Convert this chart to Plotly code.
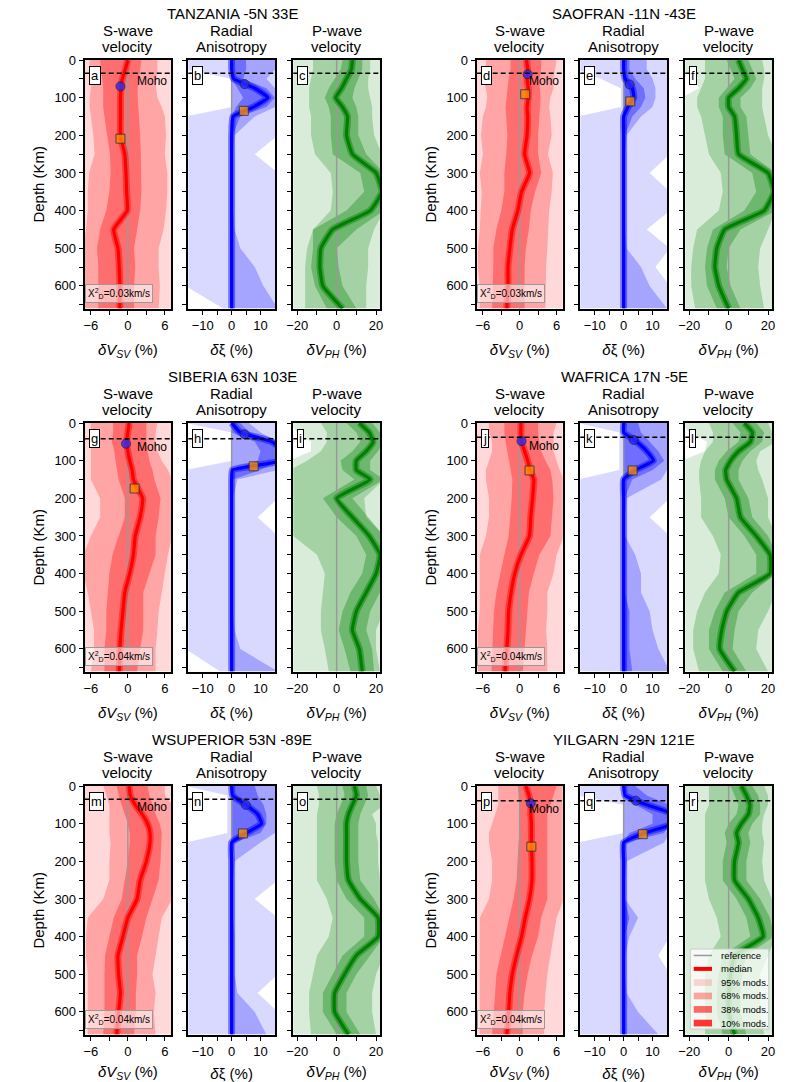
import plotly.graph_objects as go

FIG_W, FIG_H = 792, 1082

# ---------------- data ----------------
DEPTH = [0, 25, 50, 75, 100, 125, 150, 200, 250, 300, 350, 400, 450, 500, 550, 600, 660]

STATIONS = ["TANZANIA -5N 33E", "SAOFRAN -11N -43E", "SIBERIA 63N 103E",
            "WAFRICA 17N -5E", "WSUPERIOR 53N -89E", "YILGARN -29N 121E"]
CHI2 = ["0.03", "0.03", "0.04", "0.04", "0.04", "0.04"]
MOHO = [35, 35, 42, 38, 35, 39]

CIRC_VSV_DEPTH = [70, 38, 55, 48, None, 46]
CIRC_VSV_VAL = [-1.2, 1.3, -0.3, 0.3, None, 1.8]
SQ_VSV_DEPTH = [209, 91, 174, 126, None, 161]
SQ_VSV_VAL = [-1.2, 0.9, 1.1, 1.6, None, 1.9]
CIRC_XI_DEPTH = [64, 65, 30, 45, 50, 39]
CIRC_XI_VAL = [4.5, 2.1, 4.5, 3.5, 4.9, 4.2]
SQ_XI_DEPTH = [135, 110, 115, 126, 126, 128]
SQ_XI_VAL = [4.2, 2.3, 7.6, 3.1, 3.9, 6.6]

REFERENCE = 0.0

LEGEND_LABELS = ["reference", "median", "95% mods.", "68% mods.", "38% mods.", "10% mods."]

# TANZANIA
A_MED = [0.0, -0.4, -0.9, -1.1, -1.2, -1.2, -1.2, -1.2, -0.5, -0.3, -0.2, -0.1, -2.3, -1.6, -1.4, -1.3, -1.3]
A_L38 = [-4.5, -4.3, -4.2, -4.0, -4.0, -4.0, -3.8, -3.3, -2.9, -2.8, -3.0, -3.5, -4.5, -5.0, -4.8, -4.8, -4.8]
A_H38 = [2.2, 2.0, 1.8, 1.6, 1.6, 1.6, 1.8, 2.0, 2.1, 2.2, 2.2, 2.0, 1.5, 1.0, 1.2, 1.0, 1.0]
A_L68 = [-6.2, -6.2, -6.0, -6.0, -6.2, -6.2, -6.0, -5.6, -5.4, -6.3, -6.5, -6.5, -6.8, -7.2, -7.2, -7.2, -7.2]
A_H68 = [4.8, 4.8, 4.6, 4.6, 4.8, 5.5, 6.0, 6.2, 6.0, 6.4, 6.4, 6.2, 5.8, 5.0, 5.0, 5.2, 5.0]
A_L95 = [-8, -8, -8, -8, -8, -8, -8, -8, -8, -8, -8, -8, -8, -8, -8, -8, -8]
A_H95 = [8, 8, 8, 8, 8, 8, 8, 8, 8, 8, 8, 8, 8, 8, 8, 8, 8]

B_MED = [0, 0, 0.7, 8.0, 12.5, 7.5, 0.5, 0, 0, 0, 0, 0, 0, 0, 0, 0, 0]
B_L38 = [0, 0, 0, 2.0, 4.0, 1.5, 0, 0, 0, 0, 0, 0, 0, 0, 0, 0, 0]
B_H38 = [5.0, 5.0, 4.0, 12.0, 15.0, 12.0, 3.0, 0.3, 0.3, 0.3, 0.3, 0.3, 0.3, 0.3, 0.3, 0.3, 0.3]
B_L68 = [0, 0, 0, 0, 0, 0, 0, 0, 0, 0, 0, 0, 0, 0, 0, 0, 0]
B_H68 = [15.0, 15.0, 12.0, 15.0, 16.0, 15.0, 8.0, 1.0, 0.5, 0.5, 0.5, 0.5, 1.0, 3.0, 8.0, 11.0, 16.0]
B_L95 = [-16, -16, 0, 0, 0, 0, -16, -16, -16, -16, -16, -16, -16, -16, -16, -16, -3]
B_H95 = [16, 16, 16, 16, 16, 16, 16, 16, 8, 16, 16, 16, 16, 16, 16, 16, 16]

C_MED = [8, 7.5, 5, 2.5, -0.5, 3, 5.5, 5, 8, 20, 23, 17, -2, -8, -8.5, -7, 3]
C_L38 = [3, 2, -1, -4, -6, -4, -3, -3, -2, 12, 14, 5, -12, -12, -13, -11, -5]
C_H38 = [13, 13, 11, 9, 8, 10, 11, 11, 15, 24, 24, 24, 10, 0, 1, 3, 10]
C_L68 = [-12, -12, -13, -14, -14, -14, -13, -13, -11, -3, -2, -3, -12, -15, -16, -16, -16]
C_H68 = [17, 17, 16, 16, 17, 18, 18, 19, 23, 24, 24, 24, 19, 16, 16, 15, 15]
C_L95 = [-24, -24, -24, -24, -24, -24, -24, -24, -24, -24, -24, -24, -24, -24, -24, -24, -24]
C_H95 = [24, 24, 24, 24, 24, 24, 24, 24, 24, 24, 24, 24, 24, 24, 24, 24, 24]

# SAOFRAN
D_MED = [1.1, 1.3, 1.2, 1.4, 1.4, 1.2, 1.3, 1.2, 0.8, 1.6, 0.3, -0.3, -1.2, -1.6, -1.9, -1.9, -2.1]
D_L38 = [-1.5, -1.5, -1.8, -2.0, -2.2, -2.3, -2.2, -2.0, -2.2, -2.5, -2.5, -3.0, -3.8, -4.3, -4.3, -4.4, -4.5]
D_H38 = [3.5, 3.5, 3.2, 3.3, 3.4, 3.3, 3.2, 3.0, 3.0, 3.5, 2.5, 1.8, 1.5, 1.0, 0.8, 0.8, 0.8]
D_L68 = [-5.5, -5.5, -6.0, -5.5, -5.3, -5.5, -6.0, -6.3, -6.0, -6.5, -6.2, -6.3, -6.5, -6.8, -6.8, -6.5, -6.5]
D_H68 = [6.0, 5.8, 5.5, 5.5, 5.0, 4.8, 5.0, 5.2, 4.6, 5.4, 5.2, 4.8, 4.6, 4.5, 4.3, 4.2, 4.2]
D_L95 = [-8, -8, -8, -8, -8, -8, -8, -8, -8, -8, -8, -8, -8, -8, -8, -8, -8]
D_H95 = [8, 8, 8, 8, 8, 8, 8, 8, 8, 8, 8, 8, 8, 8, 8, 8, 8]

E_MED = [0, 0, 0.5, 3.0, 3.5, 1.5, 0, 0, 0, 0, 0, 0, 0, 0, 0, 0, 0]
E_L38 = [0, 0, 0, 0, 0, 0, 0, 0, 0, 0, 0, 0, 0, 0, 0, 0, 0]
E_H38 = [2, 2, 4, 7, 7.5, 6, 3, 0.5, 0.3, 0.3, 0.3, 0.3, 0.3, 0.3, 0.3, 0.3, 0.3]
E_L68 = [0, 0, 0, 0, 0, 0, 0, 0, 0, 0, 0, 0, 0, 0, 0, 0, 0]
E_H68 = [8, 8, 10, 11, 11, 10, 6, 1, 0.5, 0.5, 0.5, 0.5, 0.5, 1, 6, 9, 15]
E_L95 = [-16, -16, -8, -1, -1, -1, -16, -16, -16, -16, -16, -16, -16, -16, -16, -16, -16]
E_H95 = [16, 16, 16, 16, 16, 16, 16, 16, 16, 9, 16, 16, 8, 16, 11, 16, 16]

F_MED = [5, 7, 9, 5, 0, 0, 3, 4, 5, 20, 23, 18, -2, -6, -7, -5, 0]
F_L38 = [-1, 1, 3, -1, -5, -5, -3, -3, -2, 12, 14, 8, -8, -11, -12, -11, -6]
F_H38 = [10, 12, 14, 11, 6, 6, 9, 10, 11, 24, 24, 24, 6, 0, -1, 1, 6]
F_L68 = [-12, -12, -12, -14, -16, -16, -14, -12, -10, -4, -3, -5, -16, -18, -19, -19, -17]
F_H68 = [17, 18, 18, 17, 17, 17, 18, 20, 24, 24, 24, 24, 20, 16, 15, 16, 18]
F_L95 = [-24, -24, -17, -15, -24, -24, -24, -24, -24, -24, -24, -24, -24, -24, -24, -24, -24]
F_H95 = [24, 24, 24, 24, 24, 24, 24, 24, 24, 24, 24, 24, 24, 24, 24, 24, 24]

# SIBERIA
G_MED = [0.2, 0.0, -0.2, 0.0, 0.3, 0.7, 0.9, 2.4, 2.0, 1.2, 0.9, 0.3, -0.5, -0.8, -1.1, -1.3, -1.4]
G_L38 = [-2.4, -2.4, -2.6, -2.2, -2.0, -1.8, -1.5, -0.5, -0.5, -1.5, -2.5, -3.0, -3.3, -3.5, -3.5, -3.8, -3.8]
G_H38 = [3.0, 3.0, 3.0, 3.2, 3.5, 4.0, 4.3, 5.3, 5.0, 4.5, 4.5, 3.5, 2.5, 2.5, 2.5, 2.0, 1.5]
G_L68 = [-6.0, -6.0, -6.0, -6.0, -6.0, -6.0, -6.0, -4.5, -4.5, -6.0, -7.2, -7.2, -6.5, -6.0, -5.5, -5.5, -6.0]
G_H68 = [4.8, 4.5, 4.5, 4.8, 5.5, 6.5, 7.2, 7.2, 7.2, 7.2, 6.5, 6.0, 5.5, 5.0, 4.8, 4.5, 4.5]
G_L95 = [-8, -8, -8, -8, -8, -8, -8, -8, -8, -8, -8, -8, -8, -8, -8, -8, -8]
G_H95 = [8, 8, 8, 8, 8, 8, 8, 8, 8, 8, 8, 8, 8, 8, 8, 8, 8]

H_MED = [0, 3, 14, 18, 17, 0.3, 0, 0, 0, 0, 0, 0, 0, 0, 0, 0, 0]
H_L38 = [0, 0, 8, 10, 9, 0, 0, 0, 0, 0, 0, 0, 0, 0, 0, 0, 0]
H_H38 = [3, 6, 16, 16, 16, 10, 0.5, 0.3, 0.3, 0.3, 0.3, 0.3, 0.3, 0.3, 0.3, 0.3, 0.3]
H_L68 = [0, 0, 0, 0, 0, 0, 0, 0, 0, 0, 0, 0, 0, 0, 0, 0, 0]
H_H68 = [6, 10, 16, 16, 16, 16, 2, 0.5, 0.5, 0.5, 0.5, 0.5, 0.5, 0.5, 1, 3, 16]
H_L95 = [-16, 0, 0, 0, 0, -16, -16, -16, -16, -16, -16, -16, -16, -16, -16, -16, -4]
H_H95 = [16, 16, 16, 16, 16, 16, 16, 16, 9, 16, 16, 16, 16, 16, 16, 16, 16]

I_MED = [11.5, 16.5, 18.5, 15, 10, 10, 17, 0, 8, 16.5, 22, 20, 15, 10, 8, 11.5, 13]
I_L38 = [5, 10, 12, 8, 2, 3, 9, -7, 0, 10, 15, 13, 7, 3, 1, 4, 7]
I_H38 = [18, 22, 24, 21, 17, 17, 24, 8, 16, 24, 24, 24, 22, 17, 15, 18, 19]
I_L68 = [-8, -5, -5, -8, -15, -24, -24, -24, -24, -22, -10, -6, -7, -8, -8, -6, -4]
I_H68 = [24, 24, 24, 24, 24, 24, 24, 14, 15, 24, 24, 24, 24, 24, 20, 20, 22]
I_L95 = [-24, -20, -13, -13, -24, -24, -24, -24, -24, -24, -24, -24, -24, -24, -24, -24, -24]
I_H95 = [24, 24, 24, 24, 24, 24, 24, 24, 24, 24, 24, 24, 24, 24, 24, 24, 24]

# WAFRICA
J_MED = [0.2, 0.2, 0.3, 0.8, 1.3, 1.7, 2.3, 2.1, 1.8, 1.6, 0.2, -0.8, -1.4, -1.8, -1.9, -2.1, -2.4]
J_L38 = [-2.5, -2.5, -2.3, -2.0, -1.8, -1.5, -1.2, -1.3, -1.5, -1.8, -2.5, -3.2, -3.8, -4.2, -4.3, -4.5, -4.6]
J_H38 = [3.0, 3.0, 3.2, 3.5, 4.2, 5.0, 5.3, 5.5, 5.2, 5.0, 3.2, 2.3, 1.5, 1.2, 1.0, 0.8, 0.5]
J_L68 = [-5.0, -5.0, -4.5, -4.5, -5.0, -5.5, -5.5, -5.0, -5.0, -5.5, -6.5, -6.5, -6.5, -6.5, -6.8, -6.8, -6.8]
J_H68 = [6.0, 5.5, 5.5, 5.5, 6.0, 6.5, 7.2, 7.2, 7.2, 7.2, 6.0, 5.5, 4.5, 4.5, 4.3, 4.5, 4.5]
J_L95 = [-8, -8, -8, -8, -8, -8, -8, -8, -8, -8, -8, -8, -8, -8, -8, -8, -8]
J_H95 = [8, 8, 8, 8, 8, 8, 8, 8, 8, 8, 8, 8, 8, 8, 8, 8, 8]

K_MED = [0, 0, 4.5, 8, 10.3, 4, 0, 0, 0, 0, 0, 0, 0, 0, 0, 0, 0]
K_L38 = [0, 0, 0, 0, 0, 0, 0, 0, 0, 0, 0, 0, 0, 0, 0, 0, 0]
K_H38 = [5, 6, 9, 12, 14, 10, 3, 0.3, 0.3, 0.3, 0.3, 0.3, 0.3, 2, 2, 2, 3]
K_L68 = [0, 0, 0, 0, 0, 0, 0, 0, 0, 0, 0, 0, 0, 0, 0, 0, 0]
K_H68 = [15, 15, 15, 15, 15, 15, 13, 1, 0.5, 0.5, 4, 6, 6, 9, 10, 12, 16]
K_L95 = [-16, -1.5, -1.5, -1.5, -1.5, -1.5, -16, -16, -16, -16, -16, -16, -16, -16, -16, -16, -16]
K_H95 = [16, 16, 16, 16, 16, 16, 16, 16, 9, 16, 16, 16, 16, 16, 16, 16, 16]

L_MED = [8, 12, 11, 5, 1, -1.5, -1, 4, 6, 14, 21, 21, 5, -1, -3.5, -4.5, 3]
L_L38 = [2, 6, 5, -1, -5, -7, -7, -2, 0, 8, 14, 14, -2, -7, -10, -10, -3]
L_H38 = [14, 18, 17, 11, 7, 5, 5, 10, 12, 20, 24, 24, 12, 5, 3, 2, 9]
L_L68 = [-10, -8, -8, -12, -14, -15, -15, -14, -14, -8, -4, -5, -12, -16, -18, -18, -15]
L_H68 = [20, 22, 24, 16, 14, 15, 17, 20, 20, 24, 24, 24, 24, 20, 15, 14, 20]
L_L95 = [-24, -20, -11, -12, -24, -24, -24, -24, -24, -24, -24, -24, -24, -24, -24, -24, -24]
L_H95 = [24, 24, 24, 24, 24, 24, 24, 24, 24, 24, 24, 24, 24, 24, 24, 24, 24]

# WSUPERIOR
M_MED = [0.2, 0.4, 1.2, 2.3, 3.2, 3.6, 3.6, 3.0, 2.0, 1.5, 0.0, -0.8, -1.6, -1.5, -1.2, -1.5, -1.8]
M_L38 = [-1.8, -1.5, -1.0, -0.5, 0.0, 0.3, 0.3, 0.0, -0.5, -1.0, -2.3, -3.0, -3.7, -3.8, -3.8, -3.8, -4.0]
M_H38 = [3.2, 3.5, 4.0, 4.5, 5.2, 5.5, 5.5, 5.3, 5.0, 4.0, 3.0, 2.3, 1.5, 1.5, 1.3, 1.3, 1.0]
M_L68 = [-4.0, -3.5, -3.0, -3.0, -3.0, -3.0, -2.8, -3.0, -3.0, -4.0, -6.5, -6.8, -6.8, -6.5, -6.5, -6.5, -6.5]
M_H68 = [6.0, 6.0, 7.2, 7.2, 7.2, 7.2, 7.2, 7.2, 7.2, 7.2, 5.5, 5.0, 4.5, 4.0, 4.5, 4.2, 4.5]
M_L95 = [-8, -8, -8, -8, -8, -8, -8, -8, -8, -8, -8, -8, -8, -8, -8, -8, -8]
M_H95 = [8, 8, 8, 8, 8, 8, 8, 8, 8, 8, 8, 8, 8, 8, 8, 8, 8]

N_MED = [0, 0.3, 4.9, 9, 10.3, 5, 0, 0, 0, 0, 0, 0, 0, 0, 0, 0, 0]
N_L38 = [0, 0, 0, 0, 0, 0, 0, 0, 0, 0, 0, 0, 0, 0, 0, 0, 0]
N_H38 = [8, 9, 11, 12, 12, 10, 1, 0.3, 0.3, 0.3, 0.3, 0.3, 0.3, 0.3, 0.3, 0.3, 0.3]
N_L68 = [0, 0, 0, 0, 0, 0, 0, 0, 0, 0, 0, 0, 0, 0, 0, 0, 0]
N_H68 = [15, 15, 15, 15, 15, 15, 10, 1, 0.5, 0.5, 0.5, 1, 1, 1, 2, 8, 12]
N_L95 = [-16, -1.5, -1.5, -1.5, -1.5, -1.5, -16, -16, -16, -16, -16, -16, -16, -16, -16, -16, -16]
N_H95 = [16, 16, 16, 16, 16, 16, 16, 16, 16, 8, 16, 16, 16, 16, 9, 16, 16]

O_MED = [9, 10, 8, 6, 5, 5, 5, 5, 6, 12, 21, 21, 10, 4, -1, -1, 6]
O_L38 = [3, 4, 2, 0, -1, -1, -1, -1, 0, 5, 14, 14, 3, -2, -7, -7, 0]
O_H38 = [15, 16, 14, 12, 11, 11, 11, 11, 12, 19, 24, 24, 17, 10, 5, 5, 12]
O_L68 = [-10, -9, -9, -10, -10, -10, -10, -10, -10, -5, -2, -4, -10, -12, -14, -14, -13]
O_H68 = [20, 22, 24, 18, 20, 20, 21, 21, 22, 24, 24, 24, 24, 20, 18, 18, 20]
O_L95 = [-24, -24, -24, -24, -24, -24, -24, -24, -24, -24, -24, -24, -24, -24, -24, -24, -24]
O_H95 = [24, 24, 24, 24, 24, 24, 24, 24, 24, 24, 24, 24, 24, 24, 24, 24, 24]

# YILGARN
P_MED = [1.0, 1.5, 1.8, 1.8, 1.9, 1.9, 1.9, 2.0, 2.0, 1.6, 0.9, 0.3, -0.5, -1.2, -1.6, -1.8, -2.1]
P_L38 = [-0.3, -0.2, 0.0, 0.0, 0.0, 0.0, -0.2, -0.3, -0.5, -1.0, -1.7, -2.5, -3.2, -3.8, -4.0, -4.2, -4.5]
P_H38 = [6.0, 5.5, 5.0, 4.5, 4.5, 4.5, 4.5, 4.5, 4.5, 4.5, 3.5, 3.0, 2.0, 1.3, 0.8, 0.5, 0.5]
P_L68 = [-3.5, -3.5, -3.5, -4.0, -4.5, -5.0, -5.0, -4.5, -4.5, -5.0, -6.5, -6.5, -6.5, -6.5, -6.5, -6.5, -6.5]
P_H68 = [7.2, 7.2, 7.2, 7.2, 7.2, 7.2, 7.2, 7.2, 7.2, 7.2, 6.0, 5.5, 5.0, 4.5, 4.2, 4.0, 4.0]
P_L95 = [-8, -8, -8, -8, -8, -8, -8, -8, -8, -8, -8, -8, -8, -8, -8, -8, -8]
P_H95 = [8, 8, 8, 8, 8, 8, 8, 8, 8, 8, 8, 8, 8, 8, 8, 8, 8]

Q_MED = [0, 0.5, 8, 17, 17, 7, 0, 0, 0, 0, 0, 0, 0, 0, 0, 0, 0]
Q_L38 = [0, 0, 4, 10, 10, 2, 0, 0, 0, 0, 0, 0, 0, 0, 0, 0, 0]
Q_H38 = [4, 8, 16, 16, 16, 14, 1, 0.3, 0.3, 0.3, 2, 0.3, 0.3, 0.3, 0.3, 0.3, 0.3]
Q_L68 = [0, 0, 0, 0, 0, 0, 0, 0, 0, 0, 0, 0, 0, 0, 0, 0, 0]
Q_H68 = [16, 16, 16, 16, 16, 16, 14, 1, 0.5, 0.5, 5, 2, 0.5, 0.5, 1, 5, 12]
Q_L95 = [-16, -16, 0, 0, 0, 0, -16, -16, -16, -16, -16, -16, -16, -16, -16, -16, -16]
Q_H95 = [16, 16, 16, 16, 16, 16, 16, 16, 16, 16, 16, 16, 12, 16, 16, 16, 16]

R_MED = [6.5, 9, 10.8, 10, 6.5, 4, 5, 3, 3, 10, 15, 17.5, 3, 1, 0, 0, 3]
R_L38 = [1, 3, 5, 4, 0, -2, -1, -3, -3, 4, 9, 11, -3, -5, -6, -6, -3]
R_H38 = [12, 15, 16, 16, 12, 10, 11, 9, 9, 16, 21, 23, 9, 7, 6, 6, 9]
R_L68 = [-10, -10, -10, -12, -12, -12, -12, -12, -12, -10, -6, -4, -10, -12, -12, -12, -12]
R_H68 = [18, 20, 20, 18, 17, 17, 18, 17, 18, 22, 24, 24, 20, 16, 16, 16, 18]
R_L95 = [-24, -24, -24, -24, -24, -24, -24, -24, -24, -24, -24, -24, -24, -24, -24, -24, -24]
R_H95 = [24, 24, 24, 24, 24, 24, 24, 24, 24, 24, 24, 24, 24, 24, 24, 24, 24]

BANDS = {
    "a": (A_L95, A_L68, A_L38, A_MED, A_H38, A_H68, A_H95),
    "b": (B_L95, B_L68, B_L38, B_MED, B_H38, B_H68, B_H95),
    "c": (C_L95, C_L68, C_L38, C_MED, C_H38, C_H68, C_H95),
    "d": (D_L95, D_L68, D_L38, D_MED, D_H38, D_H68, D_H95),
    "e": (E_L95, E_L68, E_L38, E_MED, E_H38, E_H68, E_H95),
    "f": (F_L95, F_L68, F_L38, F_MED, F_H38, F_H68, F_H95),
    "g": (G_L95, G_L68, G_L38, G_MED, G_H38, G_H68, G_H95),
    "h": (H_L95, H_L68, H_L38, H_MED, H_H38, H_H68, H_H95),
    "i": (I_L95, I_L68, I_L38, I_MED, I_H38, I_H68, I_H95),
    "j": (J_L95, J_L68, J_L38, J_MED, J_H38, J_H68, J_H95),
    "k": (K_L95, K_L68, K_L38, K_MED, K_H38, K_H68, K_H95),
    "l": (L_L95, L_L68, L_L38, L_MED, L_H38, L_H68, L_H95),
    "m": (M_L95, M_L68, M_L38, M_MED, M_H38, M_H68, M_H95),
    "n": (N_L95, N_L68, N_L38, N_MED, N_H38, N_H68, N_H95),
    "o": (O_L95, O_L68, O_L38, O_MED, O_H38, O_H68, O_H95),
    "p": (P_L95, P_L68, P_L38, P_MED, P_H38, P_H68, P_H95),
    "q": (Q_L95, Q_L68, Q_L38, Q_MED, Q_H38, Q_H68, Q_H95),
    "r": (R_L95, R_L68, R_L38, R_MED, R_H38, R_H68, R_H95),
}
LETTERS = "abcdefghijklmnopqr"

# ---------------- layout geometry ----------------
COLS_PX = [(84.7, 171.0), (188.3, 275.0), (293.3, 380.0),
           (476.7, 562.7), (580.3, 667.0), (685.3, 772.0)]
ROW_TOP_PX = [60.0, 423.0, 786.0]
PANEL_H_PX = 248.5
FONT = "Liberation Sans, Arial, sans-serif"


def fx(px):
    return px / FIG_W


def fy(py):
    return 1 - py / FIG_H


KINDS = [
    dict(rgb=(255, 0, 0), med="#ff0000", rng=[-7, 7], tv=[-6, -3, 0, 3, 6],
         tt=["\u22126", "", "0", "", "6"],
         title="<i>δV</i><sub><i>SV</i></sub> (%)", head=("S-wave", "velocity")),
    dict(rgb=(0, 0, 255), med="#0000ff", rng=[-15, 15], tv=[-10, -5, 0, 5, 10],
         tt=["\u221210", "", "0", "", "10"],
         title="<i>δ</i>ξ (%)", head=("Radial", "Anisotropy")),
    dict(rgb=(0, 128, 0), med="#008000", rng=[-22, 22], tv=[-20, -10, 0, 10, 20],
         tt=["\u221220", "", "0", "", "20"],
         title="<i>δV</i><sub><i>PH</i></sub> (%)", head=("P-wave", "velocity")),
]
ALPHAS = [0.15, 0.24, 0.33]
YTICKS = list(range(0, 651, 50))

fig = go.Figure()
layout = dict(width=FIG_W, height=FIG_H, margin=dict(l=0, r=0, t=0, b=0),
              paper_bgcolor="white", plot_bgcolor="white", template="none",
              showlegend=False,
              font=dict(family=FONT, color="black", size=13))
annotations = []
shapes = []

for s in range(6):
    row, grp = divmod(s, 2)
    top = ROW_TOP_PX[row]
    bot = top + PANEL_H_PX
    for k in range(3):
        n = s * 3 + k + 1
        letter = LETTERS[n - 1]
        kind = KINDS[k]
        xa = "x" if n == 1 else f"x{n}"
        ya = "y" if n == 1 else f"y{n}"
        l95, l68, l38, med, h38, h68, h95 = BANDS[letter]
        r, g, b = kind["rgb"]
        for (lo, hi, alpha) in [(l95, h95, ALPHAS[0]), (l68, h68, ALPHAS[1]), (l38, h38, ALPHAS[2])]:
            fig.add_trace(go.Scatter(
                x=list(lo) + list(hi)[::-1], y=DEPTH + DEPTH[::-1],
                fill="toself", fillcolor=f"rgba({r},{g},{b},{alpha})",
                mode="lines", line=dict(width=0), hoverinfo="skip",
                xaxis=xa, yaxis=ya))
        # reference model
        fig.add_trace(go.Scatter(
            x=[REFERENCE] * len(DEPTH), y=DEPTH, mode="lines",
            line=dict(color="#999999", width=1.5), xaxis=xa, yaxis=ya))
        # 10% halo + median
        fig.add_trace(go.Scatter(
            x=med, y=DEPTH, mode="lines",
            line=dict(color=f"rgba({r},{g},{b},0.45)", width=7, shape="spline", smoothing=0.4),
            xaxis=xa, yaxis=ya))
        fig.add_trace(go.Scatter(
            x=med, y=DEPTH, mode="lines",
            line=dict(color=kind["med"], width=3.2, shape="spline", smoothing=0.4),
            xaxis=xa, yaxis=ya))
        # markers
        if k == 0:
            cd, cv, sd, sv = CIRC_VSV_DEPTH[s], CIRC_VSV_VAL[s], SQ_VSV_DEPTH[s], SQ_VSV_VAL[s]
        elif k == 1:
            cd, cv, sd, sv = CIRC_XI_DEPTH[s], CIRC_XI_VAL[s], SQ_XI_DEPTH[s], SQ_XI_VAL[s]
        else:
            cd = None
        if cd is not None:
            fig.add_trace(go.Scatter(
                x=[cv], y=[cd], mode="markers",
                marker=dict(symbol="circle", size=9, color="#2a2aff", opacity=0.8,
                            line=dict(color="#202040", width=1)),
                xaxis=xa, yaxis=ya))
            fig.add_trace(go.Scatter(
                x=[sv], y=[sd], mode="markers",
                marker=dict(symbol="square", size=9, color="#ff8c00", opacity=0.8,
                            line=dict(color="#303030", width=1)),
                xaxis=xa, yaxis=ya))

        x0, x1 = COLS_PX[grp * 3 + k]
        xkey = "xaxis" if n == 1 else f"xaxis{n}"
        ykey = "yaxis" if n == 1 else f"yaxis{n}"
        layout[xkey] = dict(
            domain=[fx(x0), fx(x1)], anchor=ya, range=kind["rng"],
            tickvals=kind["tv"], ticktext=kind["tt"], ticks="outside", ticklen=4,
            tickwidth=1, tickcolor="black", showline=True, mirror=True, linewidth=2,
            linecolor="black", showgrid=False, zeroline=False,
            tickfont=dict(size=13, family=FONT),
            title=dict(text=kind["title"], font=dict(size=15, family=FONT), standoff=12))
        layout[ykey] = dict(
            domain=[fy(bot), fy(top)], anchor=xa, range=[660, 0],
            tickvals=YTICKS,
            ticktext=[str(v) if (v % 100 == 0 and k == 0) else "" for v in YTICKS],
            ticks="outside", ticklen=4, tickwidth=1, tickcolor="black",
            showline=True, mirror=True, linewidth=2, linecolor="black",
            showgrid=False, zeroline=False, tickfont=dict(size=13, family=FONT),
            title=dict(text="Depth (Km)" if k == 0 else "",
                       font=dict(size=15, family=FONT), standoff=6))

        xd = ("x" if n == 1 else f"x{n}") + " domain"
        yd = ("y" if n == 1 else f"y{n}") + " domain"
        # Moho dashed line
        shapes.append(dict(type="line", xref=xd, x0=0, x1=1, yref=ya, y0=MOHO[s], y1=MOHO[s],
                           line=dict(color="black", width=1.4, dash="5px,3px"), layer="above"))
        # panel letter
        annotations.append(dict(text=letter, xref=xd, yref=yd, x=0.045, y=0.975,
                                xanchor="left", yanchor="top", showarrow=False,
                                font=dict(size=13, family=FONT), bgcolor="white",
                                bordercolor="black", borderwidth=1, borderpad=1))
        # column headers
        cx = fx((x0 + x1) / 2)
        annotations.append(dict(text=kind["head"][0], xref="paper", yref="paper", x=cx,
                                y=fy(top - 30), xanchor="center", yanchor="middle",
                                showarrow=False, font=dict(size=15, family=FONT)))
        annotations.append(dict(text=kind["head"][1], xref="paper", yref="paper", x=cx,
                                y=fy(top - 13.3), xanchor="center", yanchor="middle",
                                showarrow=False, font=dict(size=15, family=FONT)))
        if k == 0:
            annotations.append(dict(text="Moho", xref=xd, yref=ya, x=0.78, y=MOHO[s] + 22,
                                    xanchor="center", yanchor="middle", showarrow=False,
                                    font=dict(size=12, family=FONT)))
            annotations.append(dict(text="X<sup>2</sup><sub>D</sub>=" + CHI2[s] + "km/s",
                                    xref=xd, yref=yd, x=0.4, y=0.06, xanchor="center",
                                    yanchor="middle", showarrow=False,
                                    font=dict(size=10, family=FONT),
                                    bgcolor="rgba(255,255,255,0.55)", bordercolor="#999999",
                                    borderwidth=1, borderpad=2))
    # station title
    gx0 = COLS_PX[grp * 3][0]
    gx1 = COLS_PX[grp * 3 + 2][1]
    annotations.append(dict(text=STATIONS[s], xref="paper", yref="paper",
                            x=fx((gx0 + gx1) / 2), y=fy(top - 46.7), xanchor="center",
                            yanchor="middle", showarrow=False, font=dict(size=15, family=FONT)))

# ---------------- legend box inside panel r (styled like the band/median traces) ----------------
LX, LY = "x18 domain", "y18 domain"
shapes.append(dict(type="rect", xref=LX, yref=LY, x0=0.058, x1=0.962, y0=0.022, y1=0.344,
                   fillcolor="rgba(255,255,255,0.75)", line=dict(color="#cccccc", width=1),
                   layer="above"))
row_y = [0.318, 0.264, 0.209, 0.155, 0.101, 0.046]
sw0, sw1, hh = 0.097, 0.308, 0.0135
legend_styles = [
    ("line", "#999999", 1.5),
    ("line", "#ff0000", 4),
    ("rect", f"rgba(255,0,0,{ALPHAS[0]})", 0),
    ("rect", f"rgba(255,0,0,{ALPHAS[1] + 0.1})", 0),
    ("rect", f"rgba(255,0,0,{ALPHAS[2] + 0.25})", 0),
    ("rect", "rgba(255,0,0,0.78)", 0),
]
for (kindsym, col, w), yy, lab in zip(legend_styles, row_y, LEGEND_LABELS):
    if kindsym == "line":
        shapes.append(dict(type="line", xref=LX, yref=LY, x0=sw0, x1=sw1, y0=yy, y1=yy,
                           line=dict(color=col, width=w), layer="above"))
    else:
        shapes.append(dict(type="rect", xref=LX, yref=LY, x0=sw0, x1=sw1, y0=yy - hh, y1=yy + hh,
                           fillcolor=col, line=dict(width=0), layer="above"))
    annotations.append(dict(text=lab, xref=LX, yref=LY, x=0.385, y=yy, xanchor="left",
                            yanchor="middle", showarrow=False,
                            font=dict(size=9.5, family=FONT)))

layout["annotations"] = annotations
layout["shapes"] = shapes
fig.update_layout(**layout)
fig.write_html("out.html")
